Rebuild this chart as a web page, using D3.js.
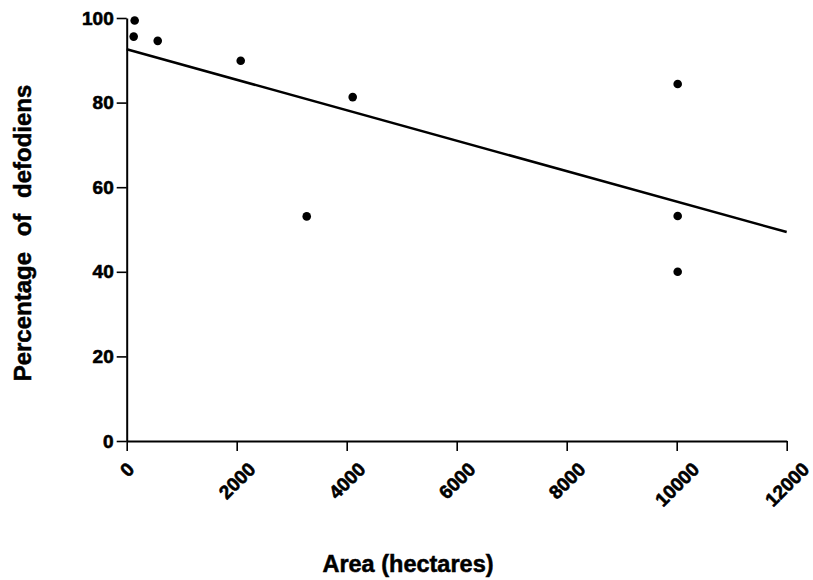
<!DOCTYPE html>
<html><head><meta charset="utf-8">
<script src="https://cdn.jsdelivr.net/npm/d3@7"></script>
<style>body{margin:0;background:#fff}</style>
</head><body>
<svg id="c" width="813" height="580"></svg>
<script>
const areas = [145, 127, 564, 2073, 4109, 3273, 10018, 10018, 10018];
const percents = [99.4, 95.6, 94.6, 89.9, 81.3, 53.1, 84.4, 53.2, 40.0];
const fitX = [0, 12000];
const fitY = [92.6, 49.4];
const xTicks = [0, 2000, 4000, 6000, 8000, 10000, 12000];
const yTicks = [0, 20, 40, 60, 80, 100];
const xLabel = "Area (hectares)";
const yLabel = "Percentage of defodiens";

const svg = d3.select("#c");
const font = "'Liberation Sans', Arial, Helvetica, sans-serif";
const x = d3.scaleLinear().domain([0, 12000]).range([126.7, 786.7]);
const y = d3.scaleLinear().domain([0, 100]).range([441, 18]);

const xa = svg.append("g").attr("transform", "translate(0,441)")
  .call(d3.axisBottom(x).tickValues(xTicks).tickSize(10).tickSizeOuter(0).tickFormat(d3.format("d")));
const ya = svg.append("g").attr("transform", "translate(126.7,0)")
  .call(d3.axisLeft(y).tickValues(yTicks).tickSize(10).tickSizeOuter(0).tickPadding(3));
[xa, ya].forEach(a => {
  a.select(".domain").attr("stroke", "#000").attr("stroke-width", 2);
  a.selectAll(".tick line").attr("stroke", "#000").attr("stroke-width", 1.6);
  a.selectAll("text").attr("font-family", font).attr("font-weight", "bold").attr("font-size", 19)
    .attr("fill", "#000").attr("stroke", "#000").attr("stroke-width", 0.6);
});
// rotated x tick labels: centred under tick, top edge at fixed offset
xa.selectAll(".tick text").each(function() {
  const t = d3.select(this);
  t.attr("y", 0).attr("dy", null).attr("text-anchor", "middle").attr("dominant-baseline", "central");
  const L = this.getComputedTextLength();
  const ext = (L + 19 * 0.72) * 0.7071;
  t.attr("transform", `translate(0,${20 + ext / 2}) rotate(-45)`);
});

svg.append("path")
  .attr("d", d3.line().x(d => x(d[0])).y(d => y(d[1]))(fitX.map((v, i) => [v, fitY[i]])))
  .attr("stroke", "#000").attr("stroke-width", 2.5).attr("fill", "none");

svg.selectAll("circle.p").data(areas).enter().append("circle")
  .attr("cx", d => x(d)).attr("cy", (d, i) => y(percents[i])).attr("r", 4.3).attr("fill", "#000");

svg.append("text").attr("x", 408).attr("y", 572).attr("text-anchor", "middle")
  .attr("font-family", font).attr("font-weight", "bold").attr("font-size", 23.5)
  .attr("stroke", "#000").attr("stroke-width", 0.5).text(xLabel);
svg.append("text").attr("transform", "translate(31,233) rotate(-90)").attr("text-anchor", "middle")
  .attr("font-family", font).attr("font-weight", "bold").attr("font-size", 24)
  .attr("stroke", "#000").attr("stroke-width", 0.5)
  .attr("word-spacing", 9).text(yLabel);
</script>
</body></html>
